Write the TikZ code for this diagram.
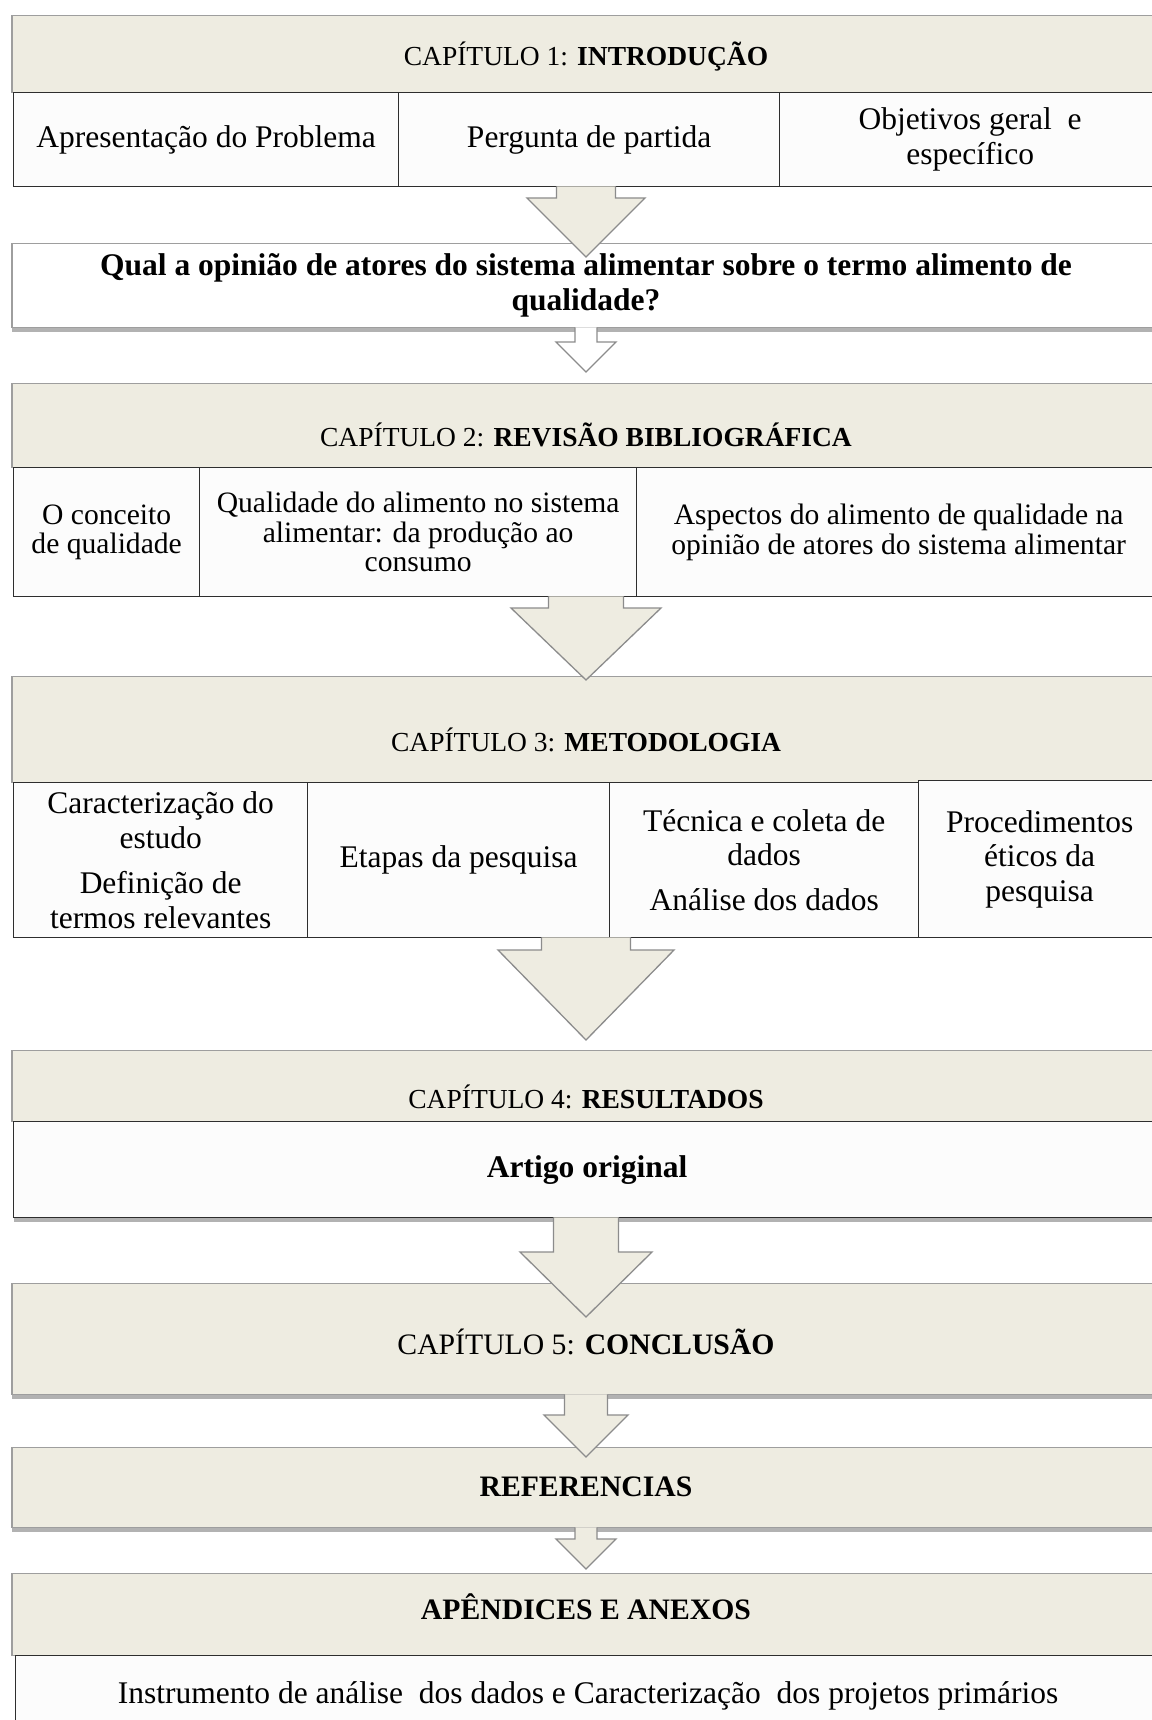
\documentclass[tikz,border=0pt]{standalone}
\usepackage{fontspec}
\setmainfont{Liberation Serif}
\usetikzlibrary{calc,shadows}

\definecolor{bandfill}{HTML}{EEECE1}
\definecolor{bandline}{HTML}{9E9E9E}
\definecolor{cellline}{HTML}{2E2E2E}
\definecolor{cellfill}{HTML}{FCFCFC}
\definecolor{arrowline}{HTML}{8C8C8C}

\newcommand{\titlefont}{\fontsize{27.5}{30}\selectfont}
\newcommand{\bigtitlefont}{\fontsize{29.7}{32}\selectfont}
\newcommand{\bodyfont}{\fontsize{31.5}{34.5}\selectfont}
\newcommand{\smallbodyfont}{\fontsize{29.6}{29.5}\selectfont}

% block arrow: fill, from, to, shaft half width, head half width, head length, overshoot
\newcommand{\blockarrow}[7]{%
  \fill[#1] let \p1=(#2), \p2=(#3) in
    (\x1-#4pt,\y1+1pt) -- (\x1-#4pt,\y2-#7pt+#6pt) -- (\x1-#5pt,\y2-#7pt+#6pt)
    -- (\x1,\y2-#7pt) -- (\x1+#5pt,\y2-#7pt+#6pt) -- (\x1+#4pt,\y2-#7pt+#6pt)
    -- (\x1+#4pt,\y1+1pt) -- cycle;
  \draw[arrowedge] let \p1=(#2), \p2=(#3) in
    (\x1-#4pt,\y1+1pt) -- (\x1-#4pt,\y2-#7pt+#6pt) -- (\x1-#5pt,\y2-#7pt+#6pt)
    -- (\x1,\y2-#7pt) -- (\x1+#5pt,\y2-#7pt+#6pt) -- (\x1+#4pt,\y2-#7pt+#6pt)
    -- (\x1+#4pt,\y1+1pt);
}

\tikzset{
  band/.style={draw=bandline, fill=bandfill, line width=1.3pt, minimum width=1148pt,
    inner sep=0pt, anchor=north},
  cell/.style={draw=cellline, fill=cellfill, line width=1.3pt, inner sep=0pt,
    anchor=north west, align=center, font=\bodyfont},
  title/.style={inner sep=0pt, align=center, font=\titlefont},
  boxshadow/.style={drop shadow={shadow xshift=0pt, shadow yshift=-4pt, opacity=0.3, fill=black}},
  arrowedge/.style={draw=arrowline, line width=1.3pt, line join=miter},
}

\begin{document}
\begin{tikzpicture}[x=1pt,y=-1pt]
\useasboundingbox[fill=white] (0,0) rectangle (1151,1720);

% chapter 1
\node[band, minimum height=77pt] (b1) at (586,15) {};
\node[title] (t1) at (586,57) {CAPÍTULO 1: \textbf{INTRODUÇÃO}};
\node[cell, minimum width=385pt, minimum height=94pt] (c11) at (13,92) {Apresentação do Problema};
\node[cell, minimum width=381pt, minimum height=94pt] (c12) at (398,92) {Pergunta de partida};
\node[cell, minimum width=381pt, minimum height=94pt] (c13) at (779,92) {Objetivos geral\ \ e\\específico};

% research question
\node[draw=bandline, fill=white, line width=1.3pt, boxshadow, minimum width=1148pt,
  minimum height=84pt, anchor=north, align=center, inner sep=0pt,
  font=\fontsize{31.5}{35}\selectfont\bfseries] (q) at (586,243)
  {Qual a opinião de atores do sistema alimentar sobre o termo alimento de\\qualidade?};

% chapter 2
\node[band, minimum height=84pt] (b2) at (586,383) {};
\node[title] (t2) at (586,435) {CAPÍTULO 2: \textbf{REVISÃO BIBLIOGRÁFICA}};
\node[cell, font=\smallbodyfont, minimum width=186pt, minimum height=129pt] (c21) at (13,467) {O conceito\\de qualidade};
\node[cell, font=\smallbodyfont, minimum width=437pt, minimum height=129pt] (c22) at (199,467) {Qualidade do alimento no sistema\\alimentar: da produção ao\\consumo};
\node[cell, font=\smallbodyfont, minimum width=524pt, minimum height=129pt] (c23) at (636,467) {Aspectos do alimento de qualidade na\\opinião de atores do sistema alimentar};

% chapter 3
\node[band, minimum height=106pt] (b3) at (586,676) {};
\node[title] (t3) at (586,740) {CAPÍTULO 3: \textbf{METODOLOGIA}};
\node[cell, minimum width=294pt, minimum height=155pt] (c31) at (13,782) {Caracterização do\\estudo\\[11pt]Definição de\\termos relevantes};
\node[cell, minimum width=302pt, minimum height=155pt] (c32) at (307,782) {Etapas da pesquisa};
\node[cell, minimum width=309pt, minimum height=155pt] (c33) at (609,782) {Técnica e coleta de\\dados\\[10pt]Análise dos dados};
\node[cell, minimum width=242pt, minimum height=157pt] (c34) at (918,780) {Procedimentos\\éticos da\\pesquisa};

% chapter 4
\node[band, minimum height=71pt] (b4) at (586,1050) {};
\node[title] (t4) at (586,1097) {CAPÍTULO 4: \textbf{RESULTADOS}};
\node[cell, boxshadow, minimum width=1147pt, minimum height=96pt, font=\bodyfont\bfseries] (r4) at (13,1121) {Artigo original};

% chapter 5
\node[band, boxshadow, minimum height=111pt] (b5) at (586,1283) {};
\node[title, font=\bigtitlefont] (t5) at (586,1342) {CAPÍTULO 5: \textbf{CONCLUSÃO}};

% references
\node[band, boxshadow, minimum height=80pt] (b6) at (586,1447) {};
\node[title, font=\bigtitlefont\bfseries] (t6) at (586,1487) {REFERENCIAS};

% appendices
\node[band, minimum height=82pt] (b7) at (586,1573) {};
\node[title, font=\bigtitlefont\bfseries] (t7) at (586,1607) {APÊNDICES E ANEXOS};
\node[cell, minimum width=1145pt, minimum height=80pt] (r7) at (15,1655)
  {Instrumento de análise\ \ dos dados e Caracterização\ \ dos projetos primários};

% arrows between the boxes
\blockarrow{bandfill}{b1 |- c11.south}{q.north}{29.5}{59}{59}{14}
\blockarrow{white}{q.south}{b2.north}{11}{30}{30}{-11}
\blockarrow{bandfill}{b2 |- c21.south}{b3.north}{37.5}{75}{72}{4}
\blockarrow{bandfill}{b3 |- c31.south}{b4.north}{44.5}{88}{90}{-10}
\blockarrow{bandfill}{r4.south -| b4}{b5.north}{32.5}{66}{65}{34}
\blockarrow{bandfill}{b5.south}{b6.north}{21.5}{42}{42}{10}
\blockarrow{bandfill}{b6.south}{b7.north}{11}{30}{30}{-4}

\end{tikzpicture}
\end{document}
